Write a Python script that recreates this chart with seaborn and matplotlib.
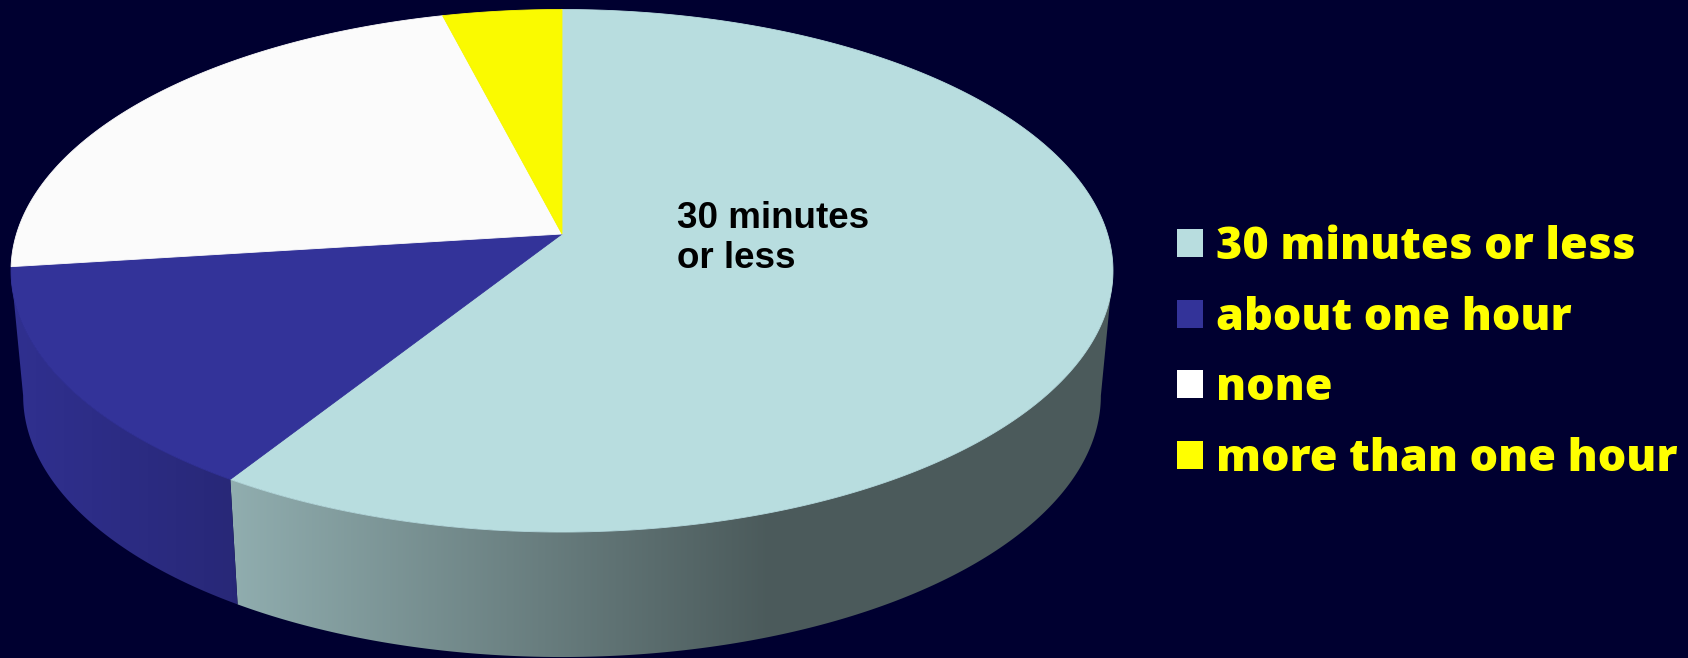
import numpy as np
import matplotlib
matplotlib.use("Agg")
import matplotlib.pyplot as plt
from matplotlib.patches import Polygon, Patch
import seaborn as sns

# Survey answers and their shares (percent)
categories = ["30 minutes or less", "about one hour", "none", "more than one hour"]
shares = [59, 14, 23, 4]
slice_colors = ["#B8DDDF", "#333399", "#FBFBFB", "#FAFA00"]
legend_colors = ["#B8DDDF", "#333399", "#FFFFFF", "#FFFF00"]
inner_label = "30 minutes\nor less"

BG = "#000030"

sns.set_theme(style="white", rc={"axes.facecolor": BG, "figure.facecolor": BG})

W, H = 1688, 658
fig = plt.figure(figsize=(W / 100, H / 100), dpi=100, facecolor=BG)
ax = fig.add_axes([0, 0, 1, 1])

# Perspective disc: apex, radii, foreshortening and wall depth (pixels)
CX, CY = 562.0, 234.0
A, B, K = 545.5, 256.1, 0.1407
DEPTH = 125.0
BOTTOM_SCALE = 0.978
TILT = np.degrees(np.arcsin(K))
FRONT = (-180.0 + TILT, -TILT)  # wall range facing the viewer, degrees


def rim(theta_deg):
    t = np.radians(theta_deg)
    u, v = np.cos(t), np.sin(t)
    w = 1 + K * v
    return CX + A * u / w, CY - B * v / w


def shade(x):
    return np.clip(0.947 - 0.0007 * x, 0.41, 1.0)


# slice angle ranges, clockwise from 12 o'clock
fractions = np.array(shares, dtype=float) / np.sum(shares)
ends = 90 - 360 * np.cumsum(fractions)
starts = np.concatenate([[90], ends[:-1]])

xs_grid = np.arange(W) + 0.5

# side walls first
for start, end, col in zip(starts, ends, slice_colors):
    lo, hi = max(end, FRONT[0]), min(start, FRONT[1])
    if hi <= lo:
        continue
    th = np.linspace(hi, lo, 200)
    tx, ty = rim(th)
    bx = CX + BOTTOM_SCALE * (tx - CX)
    by = ty + DEPTH
    pts = np.column_stack([np.concatenate([tx, bx[::-1]]),
                           np.concatenate([ty, by[::-1]])])
    poly = Polygon(pts, closed=True, facecolor="none", edgecolor="none",
                   transform=ax.transData)
    ax.add_patch(poly)
    base = np.array(matplotlib.colors.to_rgb(col))
    row = shade(xs_grid)[:, None] * base[None, :]
    img = np.repeat(row[None, :, :], H, axis=0)
    im = ax.imshow(img, extent=(0, W, H, 0), aspect="auto",
                   interpolation="bilinear", zorder=1)
    im.set_clip_path(poly)

# top faces
for start, end, col in zip(starts, ends, slice_colors):
    th = np.linspace(start, end, 300)
    tx, ty = rim(th)
    pts = np.column_stack([np.concatenate([[CX], tx]),
                           np.concatenate([[CY], ty])])
    ax.add_patch(Polygon(pts, closed=True, facecolor=col, edgecolor=col,
                         lw=0.6, zorder=2))

# multi-line label: y is the baseline of its last line
ax.text(677, 268, inner_label, ha="left", va="baseline", color="black",
        fontsize=26.5, fontweight="bold", family="Liberation Sans",
        linespacing=1.2, zorder=3)

handles = [Patch(facecolor=c, edgecolor="none") for c in legend_colors]
leg = ax.legend(handles, categories, loc="upper left",
                bbox_to_anchor=(1177 / W, 1 - 225 / H), frameon=False,
                prop={"family": "Open Sans", "weight": 800, "size": 32.3},
                labelcolor="#FFFF00", handlelength=0.59, handleheight=0.59,
                handletextpad=0.27, labelspacing=0.57, borderpad=0,
                borderaxespad=0)

ax.set_xlim(0, W)
ax.set_ylim(H, 0)
ax.axis("off")

fig.savefig("out.png", dpi=100, facecolor=BG)
